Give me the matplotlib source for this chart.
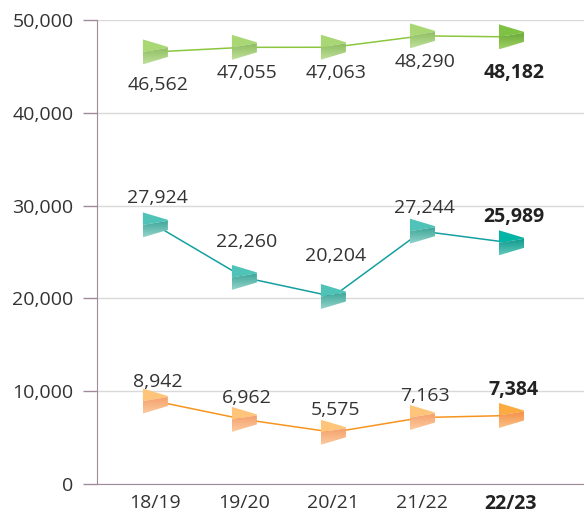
import numpy as np
import matplotlib.pyplot as plt
import matplotlib.transforms as mtransforms
from matplotlib.patches import Polygon
from matplotlib.colors import to_rgb

plt.rcParams['font.family'] = ['Open Sans', 'DejaVu Sans']

# --- data ---
years = ["18/19", "19/20", "20/21", "21/22", "22/23"]
green_vals = [46562, 47055, 47063, 48290, 48182]
teal_vals = [27924, 22260, 20204, 27244, 25989]
orange_vals = [8942, 6962, 5575, 7163, 7384]

# label offsets in pixels (positive = up)
green_dy = [-33, -26, -26, -26, -36]
teal_dy = [27, 35, 41, 23, 26]
orange_dy = [19, 21, 22, 22, 25]

series = [
    # values, offsets, line colour, (upper, lower-dark, lower-light), last (upper, dark, light)
    (green_vals, green_dy, "#8cc63e",
     ("#a8d774", "#8dbd5f", "#bfe09a"), ("#7ec143", "#68a838", "#a2d164")),
    (teal_vals, teal_dy, "#14a0a0",
     ("#4fc3b8", "#3aa597", "#95d4cb"), ("#04b5a6", "#0a998b", "#62c8bc")),
    (orange_vals, orange_dy, "#f7941e",
     ("#fec47a", "#f4a06c", "#fdcb9e"), ("#fbab3f", "#f38f48", "#fbc184")),
]

fig = plt.figure(figsize=(5.84, 5.15), dpi=100)
ax = fig.add_axes([97 / 584, 31 / 515, 1 - 97 / 584, (484 - 20) / 515])

x = np.arange(len(years))
ax.set_xlim(-0.65, 4.82)
ax.set_ylim(0, 50000)

spine_col = "#a08a9a"
ax.set_yticks(range(0, 50001, 10000))
ax.set_yticklabels([f"{v:,}" for v in range(0, 50001, 10000)])
ax.yaxis.grid(True, color="#d9d9d9", linewidth=1)
ax.set_axisbelow(True)
ax.tick_params(axis="y", length=10, width=1, color=spine_col, pad=7,
               labelsize=14, labelcolor="#333333")
ax.set_xticks(x)
ax.set_xticklabels(years)
ax.tick_params(axis="x", length=0, pad=7, labelsize=14, labelcolor="#333333")
ax.get_xticklabels()[-1].set_fontweight("bold")
ax.get_xticklabels()[-1].set_color("#222222")
for s in ["top", "right"]:
    ax.spines[s].set_visible(False)
ax.spines["left"].set_color(spine_col)
ax.spines["bottom"].set_color(spine_col)


def px(v):
    return np.array(v, dtype=float) / 100.0


def draw_marker(xd, yd, cols, zorder=5):
    upper, dark, light = cols
    trans = fig.dpi_scale_trans + mtransforms.ScaledTranslation(xd, yd, ax.transData)
    xl, xr = -12, 13
    up = [(xl, 12.5), (xr, 5), (xr, 4), (xl, 0)]
    low = [(xl, 0), (xr, 4), (xr, -5), (xl, -12.5)]
    ax.add_patch(Polygon(px(up), closed=True, transform=trans, facecolor=upper,
                         edgecolor="none", zorder=zorder, clip_on=False))
    # lower part: vertical gradient, dark at the fold, light at the bottom
    c0, c1 = np.array(to_rgb(dark)), np.array(to_rgb(light))
    t = np.linspace(0, 1, 32)[:, None]
    grad = (c0 + (c1 - c0) * t)[:, None, :]
    im = ax.imshow(grad, origin="upper", aspect="auto", interpolation="bilinear",
                   extent=(xl / 100, xr / 100, -12.5 / 100, 4 / 100), zorder=zorder)
    im.set_transform(trans)
    clip = Polygon(px(low), closed=True, transform=trans, facecolor="none",
                   edgecolor="none")
    ax.add_patch(clip)
    im.set_clip_path(clip)


for vals, dys, lc, mcols, lastcols in series:
    ax.plot(x, vals, color=lc, linewidth=1.1, zorder=3)
    for i, (xi, v) in enumerate(zip(x, vals)):
        last = i == len(vals) - 1
        draw_marker(xi, v, lastcols if last else mcols)
        ax.annotate(f"{v:,}", (xi, v), xytext=(2, dys[i] * 0.72),
                    textcoords="offset points", ha="center", va="center",
                    fontsize=14, color="#222222" if last else "#333333",
                    fontweight="bold" if last else "normal", zorder=6)

ax.set_xlim(-0.65, 4.82)
ax.set_ylim(0, 50000)

fig.savefig("out.png", dpi=100)
